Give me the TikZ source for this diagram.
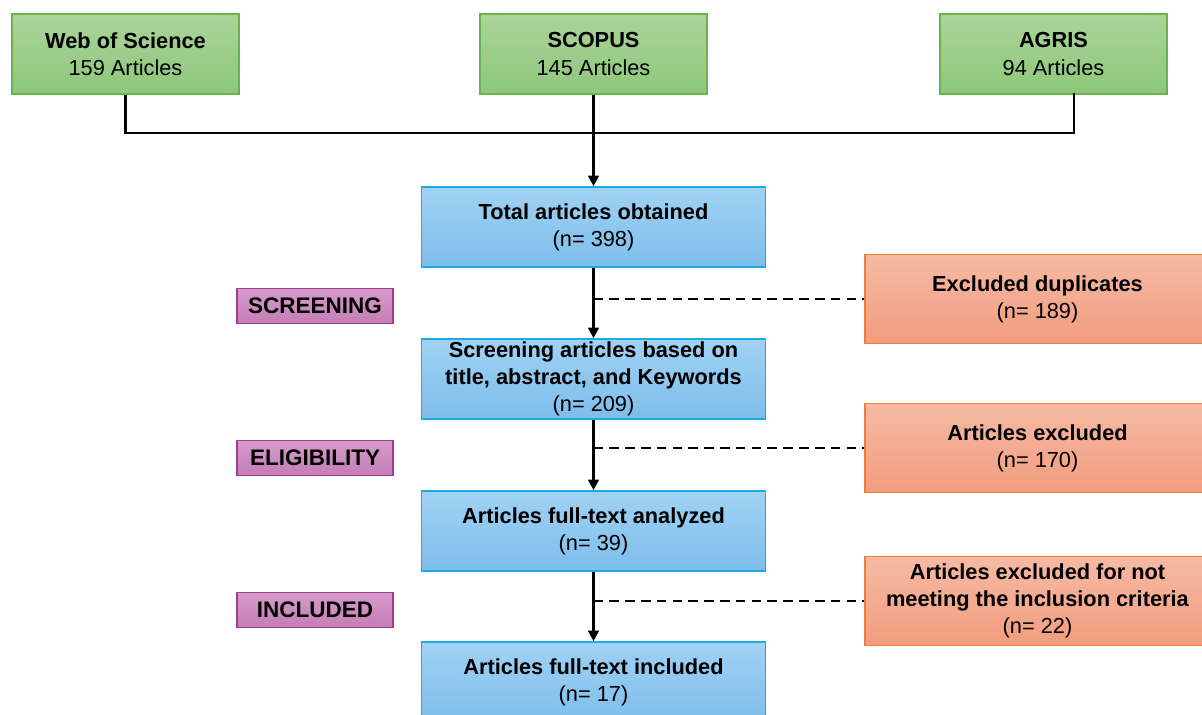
\documentclass[tikz,border=0pt]{standalone}
\usepackage{fontspec}
\setmainfont{Liberation Sans}
\usepackage{tikz}
\usetikzlibrary{arrows.meta, positioning, calc}

\definecolor{grnTop}{HTML}{ABD49A}
\definecolor{grnBot}{HTML}{8DC77A}
\definecolor{grnLine}{HTML}{6AB24E}
\definecolor{bluTop}{HTML}{A0D2F4}
\definecolor{bluBot}{HTML}{7DBDEA}
\definecolor{bluLine}{HTML}{1FA9E1}
\definecolor{pnkTop}{HTML}{D79CCB}
\definecolor{pnkBot}{HTML}{C47CB5}
\definecolor{pnkLine}{HTML}{A33A98}
\definecolor{orgTop}{HTML}{F6BAA4}
\definecolor{orgBot}{HTML}{F29C7E}
\definecolor{orgLine}{HTML}{EE7D3A}

\begin{document}
\begin{tikzpicture}[x=0.02cm, y=-0.02cm, >={Triangle[length=6pt,width=6pt]},
    font=\fontsize{12.4}{15.5}\selectfont,
    source/.style={draw=grnLine, line width=0.9pt, top color=grnTop, bottom color=grnBot, minimum width=4.54cm, minimum height=1.6cm, align=center, inner sep=0pt},
    stage/.style={draw=bluLine, line width=0.9pt, top color=bluTop, bottom color=bluBot, minimum width=6.88cm, minimum height=1.6cm, align=center, inner sep=0pt},
    phase/.style={draw=pnkLine, line width=0.9pt, top color=pnkTop, bottom color=pnkBot, minimum width=3.12cm, minimum height=0.7cm, inner sep=0pt, font=\fontsize{12.8}{15.5}\selectfont\bfseries},
    drop/.style={draw=orgLine, line width=0.9pt, top color=orgTop, bottom color=orgBot, minimum width=6.9cm, minimum height=1.78cm, align=center, inner sep=0pt},
    flow/.style={line width=1.6pt},
    cut/.style={line width=1.2pt, dash pattern=on 5.5pt off 3.5pt}]
    \clip (0,0) rectangle (1202,715);
    % databases
    \node[source] (wos) at (125.5,54) {\textbf{Web of Science}\\159 Articles};
    \node[source] (scopus) at (593.5,54) {\textbf{SCOPUS}\\145 Articles};
    \node[source] (agris) at (1053.5,54) {\textbf{AGRIS}\\94 Articles};
    \coordinate (jn) at (593.5,133);
    \coordinate (agrisout) at (1074,93);
    % main flow
    \node[stage] (total) at (593.5,227) {\textbf{Total articles obtained}\\(n= 398)};
    \node[stage] (screen) at (593.5,379) {\textbf{Screening articles based on}\\\textbf{title, abstract, and Keywords}\\(n= 209)};
    \node[stage] (fulltext) at (593.5,531) {\textbf{Articles full-text analyzed}\\(n= 39)};
    \node[stage] (incl) at (593.5,682) {\textbf{Articles full-text included}\\(n= 17)};
    % phases
    \node[phase] (pscreen) at (315,306) {SCREENING};
    \node[phase] (pelig) at (315,458) {ELIGIBILITY};
    \node[phase] (pincl) at (315,610) {INCLUDED};
    % exclusions
    \node[drop] (dup) at (1037.5,299) {\textbf{Excluded duplicates}\\(n= 189)};
    \node[drop] (excl) at (1037.5,448) {\textbf{Articles excluded}\\(n= 170)};
    \node[drop] (crit) at (1037.5,601) {\textbf{Articles excluded for not}\\\textbf{meeting the inclusion criteria}\\(n= 22)};
    % connectors
    \draw[flow] (wos.south) |- (jn) -| (agrisout);
    \draw[flow,->] (scopus.south) -- (total.north);
    \draw[flow,->] (total) -- (screen);
    \draw[flow,->] (screen) -- (fulltext);
    \draw[flow,->] (fulltext) -- (incl);
    \draw[cut] (total.south |- dup.west) -- (dup.west);
    \draw[cut] (screen.south |- excl.west) -- (excl.west);
    \draw[cut] (fulltext.south |- crit.west) -- (crit.west);
\end{tikzpicture}
\end{document}
